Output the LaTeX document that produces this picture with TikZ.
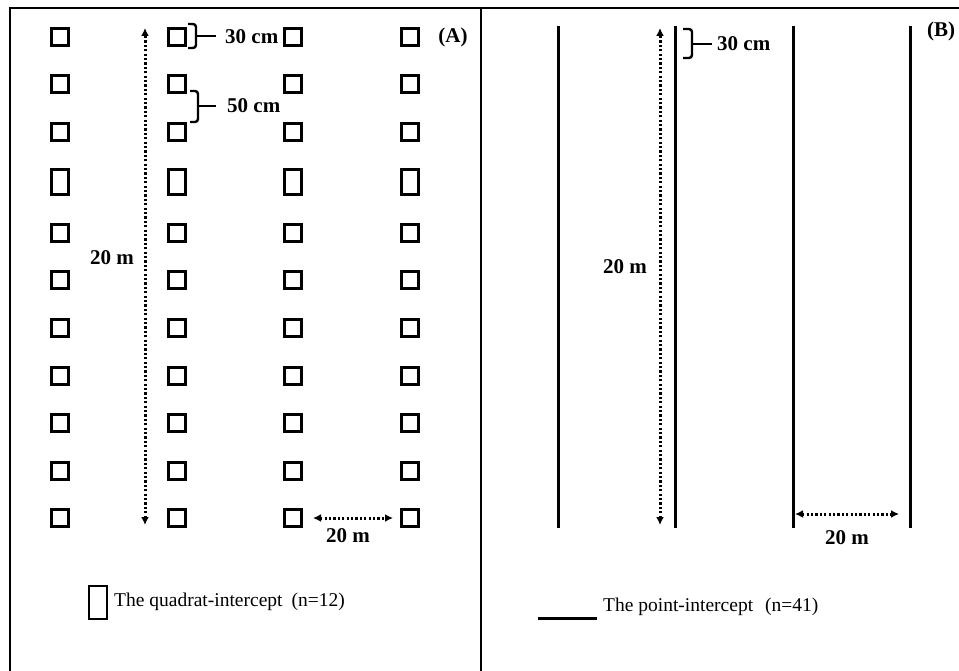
\documentclass[tikz,border=0pt]{standalone}
\usepackage{fontspec}
\setmainfont{Liberation Serif}
\usetikzlibrary{arrows.meta}
\tikzset{
  quad/.style={draw, line width=3pt, minimum width=17pt, minimum height=17pt, inner sep=0pt},
  tallquad/.style={quad, minimum height=25pt},
  frameline/.style={line width=2pt},
  transect/.style={line width=3pt},
  dotarrow/.style={line width=3pt, dash pattern=on 2.2pt off 2.2pt, {Latex[length=8pt,width=8pt]}-{Latex[length=8pt,width=8pt]}},
  bracestyle/.style={line width=2.4pt, rounded corners=3pt},
  lbl/.style={inner sep=0pt, font=\fontsize{21}{21}\selectfont\bfseries},
  legtxt/.style={inner sep=0pt, anchor=west, font=\fontsize{19.5}{20}\selectfont}
}
\begin{document}
\begin{tikzpicture}[x=1pt,y=-1pt]
\useasboundingbox (0,0) rectangle (959,671);
\clip (0,0) rectangle (959,671);
% frame
\coordinate (tl) at (10,8);
\coordinate (tr) at (990,8);
\coordinate (bl) at (10,690);
\coordinate (mt) at (481,8);
\coordinate (mb) at (481,690);
\draw[frameline] (bl) -- (tl) -- (tr);
\draw[frameline] (mt) -- (mb);

% Panel A quadrats
\foreach \c/\x in {1/60,2/177,3/293,4/410}{
  \foreach \r/\y in {1/37,2/84,3/132,5/233,6/280.5,7/328,8/375.5,9/423,10/470.5,11/518}{
    \node[quad] (q-\c-\r) at (\x,\y) {};
  }
  \node[tallquad] (q-\c-4) at (\x,182) {};
}
\node[lbl] (labA) at (453,37) {(A)};

% vertical 20 m arrow A
\coordinate (va1) at (145,28);
\coordinate (va2) at (145,525);
\draw[dotarrow] (va2) -- (va1);
\node[lbl] (l20a) at (112,258) {20 m};

% 30 cm brace A
\draw[bracestyle] (188,24) -- (196,24) -- (196,48) -- (188,48);
\coordinate (b1tip) at (196,36);
\coordinate (b1end) at (216,36);
\draw[line width=2.2pt] (b1tip) -- (b1end);
\node[lbl, anchor=west] (t30a) at (225,37) {30 cm};

% 50 cm brace A
\draw[bracestyle] (190,91) -- (198,91) -- (198,122) -- (190,122);
\coordinate (b2tip) at (198,106);
\coordinate (b2end) at (216,106);
\draw[line width=2.2pt] (b2tip) -- (b2end);
\node[lbl, anchor=west] (t50a) at (227,106) {50 cm};

% horizontal 20 m arrow A
\coordinate (ha1) at (313,518);
\coordinate (ha2) at (393,518);
\draw[dotarrow] (ha1) -- (ha2);
\node[lbl] (l20ah) at (348,536) {20 m};

% legend A
\node[draw, line width=2.4pt, minimum width=18pt, minimum height=33pt, inner sep=0pt] (legq) at (98,602.5) {};
\node[legtxt] (legqt) at (114,602) {The quadrat-intercept\hspace{9pt}(n=12)};

% Panel B transects
\foreach \i/\x in {1/558,2/675,3/793,4/910}{
  \coordinate (lt-\i) at (\x,26);
  \coordinate (lb-\i) at (\x,528);
  \draw[transect] (lt-\i) -- (lb-\i);
}
\node[lbl, anchor=west] (labB) at (927,31) {(B)};

% vertical 20 m arrow B
\coordinate (vb1) at (660,28);
\coordinate (vb2) at (660,525);
\draw[dotarrow] (vb2) -- (vb1);
\node[lbl] (l20b) at (625,267) {20 m};

% 30 cm brace B
\draw[bracestyle] (683,29) -- (692,29) -- (692,58) -- (683,58);
\coordinate (b3tip) at (692,44);
\coordinate (b3end) at (712,44);
\draw[line width=2.2pt] (b3tip) -- (b3end);
\node[lbl, anchor=west] (t30b) at (717,44) {30 cm};

% horizontal 20 m arrow B
\coordinate (hb1) at (795,514);
\coordinate (hb2) at (899,514);
\draw[dotarrow] (hb1) -- (hb2);
\node[lbl] (l20bh) at (847,538) {20 m};

% legend B
\coordinate (legl1) at (538,618);
\coordinate (legl2) at (597,618);
\draw[transect] (legl1) -- (legl2);
\node[legtxt] (legpt) at (603,607) {The point-intercept\hspace{12pt}(n=41)};
\end{tikzpicture}
\end{document}
